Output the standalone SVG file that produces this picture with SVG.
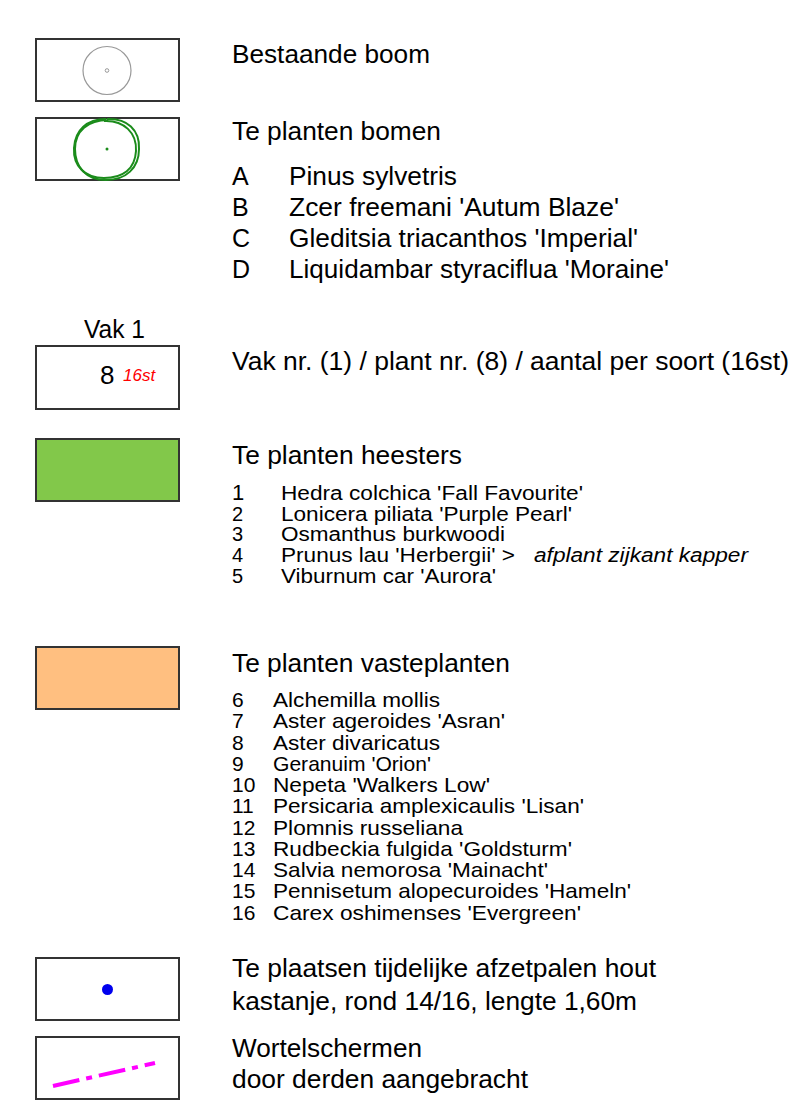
<svg xmlns="http://www.w3.org/2000/svg" width="797" height="1113" viewBox="0 0 797 1113">
<style>
text{font-family:"Liberation Sans",Arial,sans-serif;fill:#000}
.t{font-size:25px}
.l{font-size:21px}
.h{font-size:20px}
.box{fill:#fff;stroke:#333;stroke-width:2}
</style>
<rect width="797" height="1113" fill="#fff"/>
<g id="bestaande-boom">
<rect class="box" x="36" y="39" width="143" height="62"/>
<circle cx="107" cy="70.5" r="24" fill="none" stroke="#999" stroke-width="1.2"/>
<circle cx="107" cy="70.5" r="1.8" fill="none" stroke="#999" stroke-width="1"/>
<text class="t" x="232" y="63" textLength="198" lengthAdjust="spacingAndGlyphs">Bestaande boom</text>
</g>
<g id="te-planten-bomen">
<rect class="box" x="36" y="118" width="143" height="62"/>
<path d="M107 119 C127 118 140 130 139 149 C139 168 126 180 106 180 C86 180 75 167 75 149 C75 131 88 120 108 120" fill="none" stroke="#1b8c1b" stroke-width="2"/>
<path d="M104 121 C124 120 137 133 136 151 C135 169 123 178 104 178 C85 178 73 166 74 148 C75 130 87 119 106 119" fill="none" stroke="#1b8c1b" stroke-width="2"/>
<circle cx="107" cy="149" r="1.5" fill="#1b8c1b"/>
<text class="t" x="232" y="140" textLength="209" lengthAdjust="spacingAndGlyphs">Te planten bomen</text>
<text class="t" x="232" y="185">A</text>
<text class="t" x="289" y="185" textLength="168" lengthAdjust="spacingAndGlyphs">Pinus sylvetris</text>
<text class="t" x="232" y="216">B</text>
<text class="t" x="289" y="216" textLength="330" lengthAdjust="spacingAndGlyphs">Zcer freemani 'Autum Blaze'</text>
<text class="t" x="232" y="247">C</text>
<text class="t" x="289" y="247" textLength="349" lengthAdjust="spacingAndGlyphs">Gleditsia triacanthos 'Imperial'</text>
<text class="t" x="232" y="278">D</text>
<text class="t" x="289" y="278" textLength="380" lengthAdjust="spacingAndGlyphs">Liquidambar styraciflua 'Moraine'</text>
</g>
<g id="vak">
<text class="t" x="84" y="338" textLength="61" lengthAdjust="spacingAndGlyphs">Vak 1</text>
<rect class="box" x="36" y="346" width="143" height="63"/>
<text x="100" y="384" style="font-size:26px">8</text>
<text x="123" y="381" style="font-size:17px;font-style:italic;fill:#f00">16st</text>
<text class="t" x="232" y="370" textLength="557" lengthAdjust="spacingAndGlyphs">Vak nr. (1) / plant nr. (8) / aantal per soort (16st)</text>
</g>
<g id="heesters">
<rect x="36" y="439" width="143" height="62" fill="#82c84a" stroke="#333" stroke-width="2"/>
<text class="t" x="232" y="464" textLength="230" lengthAdjust="spacingAndGlyphs">Te planten heesters</text>
<text x="232" y="500" style="font-size:22px">1</text>
<text class="h" x="281" y="500" textLength="302" lengthAdjust="spacingAndGlyphs">Hedra colchica 'Fall Favourite'</text>
<text class="h" x="232" y="521">2</text>
<text class="h" x="281" y="521" textLength="291" lengthAdjust="spacingAndGlyphs">Lonicera piliata 'Purple Pearl'</text>
<text class="h" x="232" y="541">3</text>
<text class="h" x="281" y="541" textLength="224" lengthAdjust="spacingAndGlyphs">Osmanthus burkwoodi</text>
<text class="h" x="232" y="562">4</text>
<text class="h" x="281" y="562" textLength="234" lengthAdjust="spacingAndGlyphs">Prunus lau 'Herbergii' &gt;</text>
<text class="h" x="534" y="562" style="font-style:italic" textLength="214" lengthAdjust="spacingAndGlyphs">afplant zijkant kapper</text>
<text class="h" x="232" y="583">5</text>
<text class="h" x="281" y="583" textLength="215" lengthAdjust="spacingAndGlyphs">Viburnum car 'Aurora'</text>
</g>
<g id="vasteplanten">
<rect x="36" y="647" width="143" height="62" fill="#ffbf80" stroke="#333" stroke-width="2"/>
<text class="t" x="232" y="672" textLength="278" lengthAdjust="spacingAndGlyphs">Te planten vasteplanten</text>
<text class="l" x="232" y="707">6</text>
<text class="l" x="273" y="707" textLength="167" lengthAdjust="spacingAndGlyphs">Alchemilla mollis</text>
<text class="l" x="232" y="728">7</text>
<text class="l" x="273" y="728" textLength="232" lengthAdjust="spacingAndGlyphs">Aster ageroides 'Asran'</text>
<text class="l" x="232" y="750">8</text>
<text class="l" x="273" y="750" textLength="167" lengthAdjust="spacingAndGlyphs">Aster divaricatus</text>
<text class="l" x="232" y="771">9</text>
<text class="l" x="273" y="771" textLength="158" lengthAdjust="spacingAndGlyphs">Geranuim 'Orion'</text>
<text class="l" x="232" y="792">10</text>
<text class="l" x="273" y="792" textLength="217" lengthAdjust="spacingAndGlyphs">Nepeta 'Walkers Low'</text>
<text class="l" x="232" y="813">11</text>
<text class="l" x="273" y="813" textLength="311" lengthAdjust="spacingAndGlyphs">Persicaria amplexicaulis 'Lisan'</text>
<text class="l" x="232" y="835">12</text>
<text class="l" x="273" y="835" textLength="190" lengthAdjust="spacingAndGlyphs">Plomnis russeliana</text>
<text class="l" x="232" y="856">13</text>
<text class="l" x="273" y="856" textLength="299" lengthAdjust="spacingAndGlyphs">Rudbeckia fulgida 'Goldsturm'</text>
<text class="l" x="232" y="877">14</text>
<text class="l" x="273" y="877" textLength="275" lengthAdjust="spacingAndGlyphs">Salvia nemorosa 'Mainacht'</text>
<text class="l" x="232" y="898">15</text>
<text class="l" x="273" y="898" textLength="358" lengthAdjust="spacingAndGlyphs">Pennisetum alopecuroides 'Hameln'</text>
<text class="l" x="232" y="920">16</text>
<text class="l" x="273" y="920" textLength="308" lengthAdjust="spacingAndGlyphs">Carex oshimenses 'Evergreen'</text>
</g>
<g id="afzetpalen">
<rect class="box" x="36" y="958" width="143" height="62"/>
<circle cx="107.5" cy="989.5" r="5.5" fill="#0000ee"/>
<text class="t" x="232" y="977" textLength="424" lengthAdjust="spacingAndGlyphs">Te plaatsen tijdelijke afzetpalen hout</text>
<text class="t" x="232" y="1010" textLength="405" lengthAdjust="spacingAndGlyphs">kastanje, rond 14/16, lengte 1,60m</text>
</g>
<g id="wortelschermen">
<rect class="box" x="36" y="1037" width="143" height="62"/>
<line x1="53" y1="1086" x2="155" y2="1063" stroke="#ff00ff" stroke-width="4" stroke-dasharray="27 7 6 7"/>
<text class="t" x="232" y="1057" textLength="190" lengthAdjust="spacingAndGlyphs">Wortelschermen</text>
<text class="t" x="232" y="1088" textLength="296" lengthAdjust="spacingAndGlyphs">door derden aangebracht</text>
</g>
<g id="connectors"></g>
</svg>
